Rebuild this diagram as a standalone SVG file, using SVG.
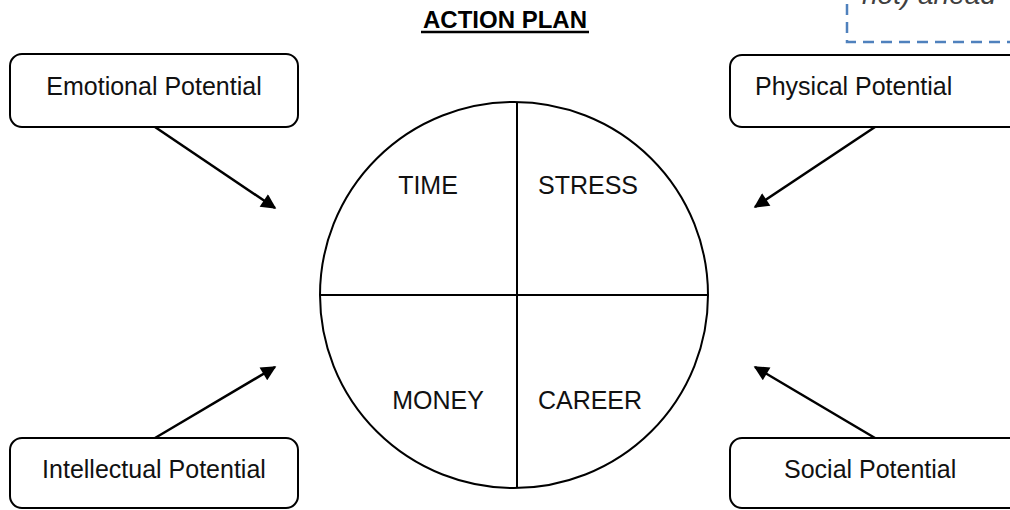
<svg xmlns="http://www.w3.org/2000/svg" width="1010" height="510" viewBox="0 0 1010 510">
<defs>
<style>
.box{fill:#fff;stroke:#000;stroke-width:2}
.lbl{font-family:"Liberation Sans",Arial,sans-serif;font-size:25px;fill:#111}
.conn{stroke:#000;stroke-width:2.5;fill:none;marker-end:url(#ah)}
.dash{stroke:#4F81BD;stroke-width:2.5;fill:none;stroke-dasharray:11 7}
</style>
<marker id="ah" viewBox="0 0 10 10" refX="9" refY="5" markerWidth="7.5" markerHeight="6" markerUnits="strokeWidth" orient="auto">
<path d="M0,0 L10,5 L0,10 z" fill="#000"/>
</marker>
</defs>
<rect width="1010" height="510" fill="#fff"/>
<g id="note">
<path class="dash" d="M847,4 L847,42 L1010,42"/>
<text x="862" y="4" style="font-family:'Liberation Sans',Arial,sans-serif;font-size:28px;font-style:italic;fill:#404040">not) ahead</text>
</g>
<g id="title">
<text x="505" y="28" text-anchor="middle" style="font-family:'Liberation Sans',Arial,sans-serif;font-size:24px;font-weight:bold;fill:#000">ACTION PLAN</text>
<line x1="421" y1="32" x2="589" y2="32" stroke="#000" stroke-width="2.5"/>
</g>
<g id="wheel">
<ellipse cx="514" cy="295" rx="194" ry="193" fill="#fff" stroke="#000" stroke-width="2"/>
<line x1="517" y1="102" x2="517" y2="488" stroke="#000" stroke-width="2"/>
<line x1="320" y1="295" x2="708" y2="295" stroke="#000" stroke-width="2"/>
<text class="lbl" x="428" y="194" text-anchor="middle">TIME</text>
<text class="lbl" x="588" y="194" text-anchor="middle">STRESS</text>
<text class="lbl" x="438" y="409" text-anchor="middle">MONEY</text>
<text class="lbl" x="590" y="409" text-anchor="middle">CAREER</text>
</g>
<g id="emotional">
<rect class="box" x="10" y="54" width="288" height="73" rx="12"/>
<text class="lbl" x="154" y="95" text-anchor="middle">Emotional Potential</text>
</g>
<g id="physical">
<rect class="box" x="730" y="55" width="300" height="72" rx="12"/>
<text class="lbl" x="755" y="95">Physical Potential</text>
</g>
<g id="intellectual">
<rect class="box" x="10" y="438" width="288" height="70" rx="12"/>
<text class="lbl" x="154" y="478" text-anchor="middle">Intellectual Potential</text>
</g>
<g id="social">
<rect class="box" x="730" y="438" width="300" height="70" rx="12"/>
<text class="lbl" x="784" y="478">Social Potential</text>
</g>
<g id="connectors">
<line class="conn" x1="155" y1="127" x2="275" y2="208"/>
<line class="conn" x1="875" y1="127" x2="755" y2="207"/>
<line class="conn" x1="155" y1="438" x2="275" y2="367"/>
<line class="conn" x1="875" y1="438" x2="755" y2="367"/>
</g>
</svg>
